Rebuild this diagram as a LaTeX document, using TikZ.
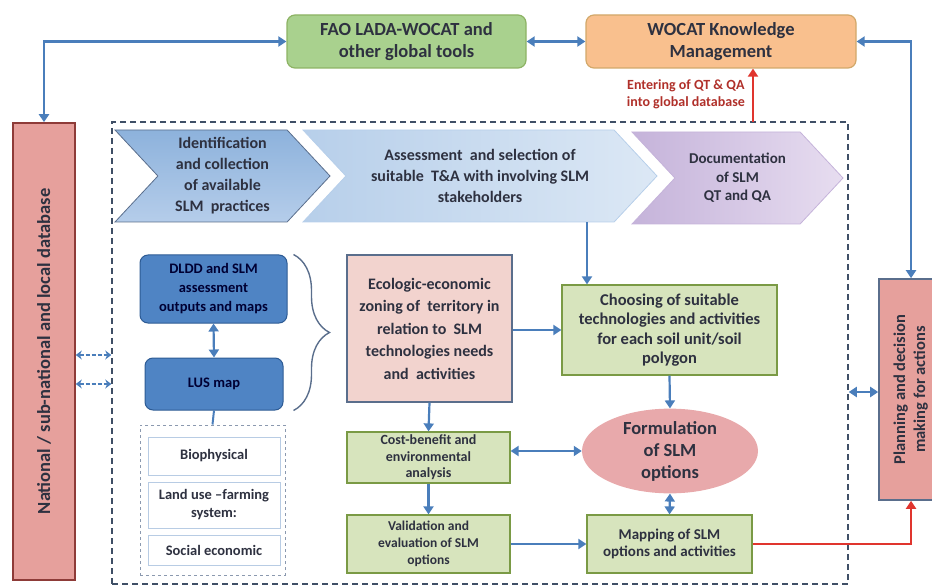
\documentclass[tikz,border=0pt]{standalone}
\usepackage{fontspec}
\setmainfont{Carlito}
\usetikzlibrary{positioning,calc,arrows.meta,shapes.geometric,shapes.symbols,decorations.pathreplacing}

\definecolor{arrowblue}{HTML}{4A7EBB}
\definecolor{txt}{HTML}{2E3140}
\definecolor{faofill}{HTML}{A9D18E}
\definecolor{faoline}{HTML}{8DB364}
\definecolor{orfill}{HTML}{F9C08E}
\definecolor{orline}{HTML}{D2A86A}
\definecolor{greenfill}{HTML}{D7E4BD}
\definecolor{greenline}{HTML}{7A9A45}
\definecolor{darkblue}{HTML}{4F84C4}
\definecolor{darkblueline}{HTML}{2D5B94}
\definecolor{rosefill}{HTML}{F2D3CE}
\definecolor{slateline}{HTML}{5A6E8C}
\definecolor{redfill}{HTML}{E6A09C}
\definecolor{redline}{HTML}{8E3B38}
\definecolor{ovalfill}{HTML}{E8A9AB}
\definecolor{framecol}{HTML}{3F4F66}
\definecolor{redarrow}{HTML}{E0352E}
\definecolor{redtext}{HTML}{B0302A}
\definecolor{identtop}{HTML}{8DB2DC}
\definecolor{identbot}{HTML}{B5CDEA}
\definecolor{assessL}{HTML}{B7CFEA}
\definecolor{assessR}{HTML}{DCE8F5}
\definecolor{docuL}{HTML}{C5B3DA}
\definecolor{docuR}{HTML}{E7DDF0}
\definecolor{factorline}{HTML}{B8CCE4}

\begin{document}
\begin{tikzpicture}[x=1pt, y=-1pt, >={Triangle[length=8pt,width=10pt]},
 every node/.style={font=\bfseries, text=txt, align=center, inner sep=2pt},
 flow/.style={->, arrowblue, line width=2.2pt},
 both/.style={<->, arrowblue, line width=2.2pt},
 dashboth/.style={{Stealth[length=6pt,width=9pt]}-{Stealth[length=6pt,width=9pt]}, arrowblue, line width=1.8pt, dash pattern=on 4pt off 2pt},
 redflow/.style={->, redarrow, line width=2.2pt},
 topbox/.style={draw, rounded corners=8pt, line width=1.2pt, font=\bfseries\fontsize{18.5}{22}\selectfont},
 chevron/.style={signal, signal to=east, signal from=west, signal pointer angle=94, line width=0.8pt, font=\bfseries\fontsize{16}{21}\selectfont},
 bluebox/.style={draw=darkblueline, fill=darkblue, rounded corners=8pt, line width=1pt, text=black!80!blue, font=\bfseries\fontsize{14.5}{19}\selectfont},
 greenbox/.style={draw=greenline, fill=greenfill, line width=1.2pt, font=\bfseries\fontsize{16.5}{19.5}\selectfont},
 factor/.style={draw=factorline, fill=white, line width=1pt, minimum width=132, font=\bfseries\fontsize{14.5}{18}\selectfont},
 sidebox/.style={draw=redline, fill=redfill, line width=1.6pt, font=\bfseries\fontsize{18.5}{21}\selectfont}]

\useasboundingbox (0,0) rectangle (932,588);

% outer frame and side boxes
\node[draw=framecol, line width=1.5pt, dash pattern=on 6pt off 4pt, minimum width=736, minimum height=462] (frame) at (480,353) {};
\node[sidebox, minimum width=62, minimum height=457] (nat) at (44,351.5) {\rotatebox{90}{National / sub-national and local database}};
\node[sidebox, draw=slateline, minimum width=64, minimum height=221, font=\bfseries\fontsize{16.5}{20}\selectfont] (plan) at (911,389.5) {\rotatebox{90}{\begin{tabular}{c}Planning and decision\\making for actions\end{tabular}}};

% global tools
\node[topbox, draw=faoline, fill=faofill, minimum width=239, minimum height=53] (fao) at (406.5,41.5) {FAO LADA-WOCAT and\\other global tools};
\node[topbox, draw=orline, fill=orfill, minimum width=270, minimum height=53] (wocat) at (721,41.5) {WOCAT Knowledge\\Management};
\node[font=\bfseries\fontsize{14}{17}\selectfont, text=redtext, anchor=east] (entering) at (747,94) {Entering of QT \& QA\\into global database};

% process chevrons
\node[chevron, draw=slateline, top color=identtop, bottom color=identbot, minimum width=215, minimum height=92] (ident) at (222.5,176) {Identification\\and collection\\of available\\SLM\ \ practices};
\node[chevron, draw=assessL, left color=assessL, right color=assessR, minimum width=354, minimum height=92] (assess) at (480,176) {Assessment\ \ and selection of\\suitable\ \ T\&A with involving SLM\\stakeholders};
\node[chevron, draw=docuL, left color=docuL, right color=docuR, minimum width=211, minimum height=92, font=\bfseries\fontsize{15}{18.5}\selectfont] (docu) at (737.5,178) {Documentation\\of SLM\\QT and QA};

% left column
\node[bluebox, minimum width=147, minimum height=68] (dldd) at (213.5,289) {DLDD and SLM\\assessment\\outputs and maps};
\node[bluebox, minimum width=138, minimum height=52] (lus) at (214,384) {LUS map};
\node[draw=slateline!70, line width=1pt, dashed, minimum width=145, minimum height=150] (factors) at (212.5,500) {};
\node[factor, minimum height=38] (bio) at (214,456) {Biophysical};
\node[factor, minimum height=46] (landuse) at (214,505) {Land use --farming\\system:};
\node[factor, minimum height=30] (social) at (214,550) {Social economic};

% zoning and options
\node[draw=slateline, fill=rosefill, line width=1.2pt, minimum width=165, minimum height=147, font=\bfseries\fontsize{16}{22.5}\selectfont] (eco) at (429.5,328.5) {Ecologic-economic\\zoning of\ \ territory in\\relation to\ \ SLM\\technologies needs\\and\ \ activities};
\node[greenbox, minimum width=215, minimum height=90] (choose) at (669.5,330) {Choosing of suitable\\technologies and activities\\for each soil unit/soil\\polygon};
\node[ellipse, fill=ovalfill, minimum width=176, minimum height=72, inner sep=0pt, font=\bfseries\fontsize{18.5}{22}\selectfont] (formul) at (670,451) {Formulation\\of SLM\\options};
\node[greenbox, minimum width=163, minimum height=51, font=\bfseries\fontsize{14}{16.5}\selectfont] (cost) at (428.5,457.5) {Cost-benefit and\\environmental\\analysis};
\node[greenbox, minimum width=163, minimum height=58, font=\bfseries\fontsize{13.5}{17}\selectfont] (valid) at (428.5,544) {Validation and\\evaluation of SLM\\options};
\node[greenbox, minimum width=165, minimum height=58, font=\bfseries\fontsize{15}{17}\selectfont] (mapping) at (669.5,544) {Mapping of SLM\\options and activities};

% connectors
\coordinate (qt) at (753,122);
\coordinate (dbA) at (0,355);
\coordinate (dbB) at (0,384);
\coordinate (pl) at (0,392);
\draw[both] (fao.west) -| (nat.north);
\draw[both] (fao.east) -- (wocat.west);
\draw[both] (wocat.east) -| (plan.north);
\draw[redflow] (qt) -- (qt |- wocat.south);
\draw[flow] ([xshift=107pt]assess.south) -- ([xshift=107pt]assess.south |- choose.north);
\draw[both] (dldd.south) -- (lus.north);
\draw[arrowblue, line width=2pt] (lus.south) -- (factors.north);
\draw[slateline, line width=1.4pt, decorate, decoration={brace, amplitude=36pt, aspect=0.5}] ([xshift=6pt]dldd.north east) -- ([xshift=10pt]lus.south east);
\draw[flow] (eco.east |- choose.west) -- (choose.west);
\draw[flow] (choose.south) -- (formul.north);
\draw[flow] (eco.south) -- (cost.north);
\draw[flow] (cost.south) -- (valid.north);
\draw[both] (cost.east |- formul.west) -- (formul.west);
\draw[flow] (valid.east) -- (mapping.west);
\draw[both] (formul.south) -- (mapping.north);
\draw[redflow] (mapping.east) -| (plan.south);
\draw[dashboth] (nat.east |- dbA) -- (frame.west |- dbA);
\draw[dashboth] (nat.east |- dbB) -- (frame.west |- dbB);
\draw[both] (frame.east |- pl) -- (plan.west |- pl);
\end{tikzpicture}
\end{document}
